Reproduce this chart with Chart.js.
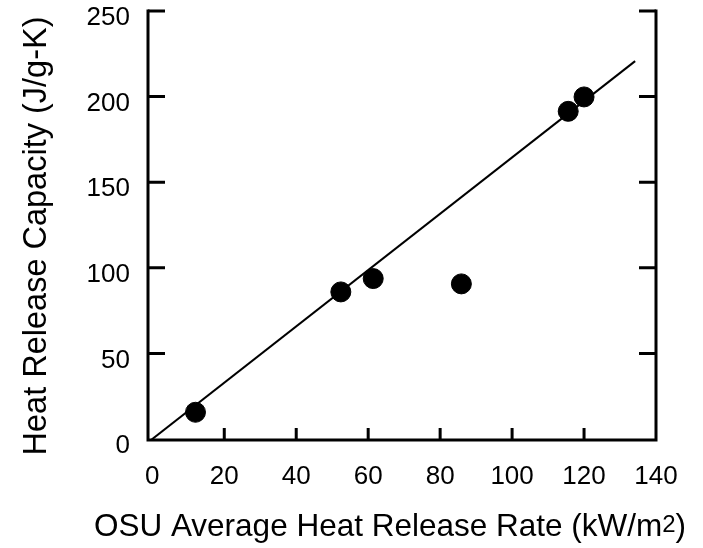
<!DOCTYPE html>
<html>
<head>
<meta charset="utf-8">
<script src="https://cdn.jsdelivr.net/npm/chart.js@4.4.0/dist/chart.umd.min.js"></script>
<style>
  html, body { margin: 0; padding: 0; background: #fff; }
  #wrap { width: 703px; height: 548px; }
</style>
</head>
<body>
<div id="wrap"><canvas id="chart"></canvas></div>
<script>
// --- Data ---
const osuRate = [12, 52.4, 61.4, 85.9, 115.6, 120];          // kW/m2
const heatCapacity = [15.6, 85.9, 93.7, 90.6, 191.4, 199.8]; // J/g-K
const fitX = [-1.2, 134.2];
const fitY = [-2, 220.7];
const xTicks = [0, 20, 40, 60, 80, 100, 120, 140];
const yTicks = [0, 50, 100, 150, 200, 250];

const FONT = '"Liberation Sans", Arial, Helvetica, sans-serif';

// frame (left, bottom, right) with inward tick marks
const framePlugin = {
  id: 'frame',
  afterDraw(chart) {
    const { ctx, chartArea: a, scales: { x, y } } = chart;
    const top = y.getPixelForValue(250);
    ctx.save();
    ctx.strokeStyle = '#000';
    ctx.lineWidth = 3;
    ctx.lineCap = 'square';
    ctx.beginPath();
    ctx.moveTo(a.left, top);
    ctx.lineTo(a.left, a.bottom);
    ctx.lineTo(a.right, a.bottom);
    ctx.lineTo(a.right, top);
    ctx.stroke();
    ctx.lineCap = 'butt';
    ctx.beginPath();
    yTicks.filter(v => v > 0).forEach(v => {
      const py = y.getPixelForValue(v);
      ctx.moveTo(a.left, py); ctx.lineTo(a.left + 17, py);
      ctx.moveTo(a.right, py); ctx.lineTo(a.right - 17, py);
    });
    xTicks.filter(v => v > 0 && v < 140).forEach(v => {
      const px = x.getPixelForValue(v);
      ctx.moveTo(px, a.bottom); ctx.lineTo(px, a.bottom - 12);
    });
    ctx.stroke();
    ctx.restore();
  }
};

// axis titles (x title has the smaller "2")
const titlePlugin = {
  id: 'titles',
  afterDraw(chart) {
    const ctx = chart.ctx;
    ctx.save();
    ctx.fillStyle = '#000';
    ctx.textBaseline = 'alphabetic';
    const main = 'OSU Average Heat Release Rate (kW/m';
    const big = '31.5px ' + FONT, small = '24px ' + FONT;
    ctx.font = big;
    const w1 = ctx.measureText(main).width;
    const w3 = ctx.measureText(')').width;
    ctx.font = small;
    const w2 = ctx.measureText('2').width;
    let sx = 390 - (w1 + w2 + w3) / 2;
    const base = 536;
    ctx.textAlign = 'left';
    ctx.font = big;
    ctx.fillText(main, sx, base);
    ctx.font = small;
    ctx.fillText('2', sx + w1, base - 4);
    ctx.font = big;
    ctx.fillText(')', sx + w1 + w2, base);

    ctx.translate(46, 236);
    ctx.rotate(-Math.PI / 2);
    ctx.textAlign = 'center';
    ctx.font = '32.5px ' + FONT;
    ctx.fillText('Heat Release Capacity (J/g-K)', 0, 0);
    ctx.restore();
  }
};

new Chart(document.getElementById('chart'), {
  type: 'scatter',
  data: {
    datasets: [
      {
        label: 'Data',
        data: osuRate.map((v, i) => ({ x: v, y: heatCapacity[i] })),
        backgroundColor: '#000',
        borderColor: '#000',
        pointRadius: 10,
        pointHoverRadius: 10
      },
      {
        label: 'Fit',
        type: 'line',
        data: fitX.map((v, i) => ({ x: v, y: fitY[i] })),
        borderColor: '#000',
        borderWidth: 2,
        pointRadius: 0,
        fill: false
      }
    ]
  },
  options: {
    responsive: true,
    maintainAspectRatio: false,
    animation: false,
    devicePixelRatio: 1,
    layout: { padding: { top: 10.5, right: 47, left: 0, bottom: 0 } },
    plugins: {
      legend: { display: false },
      tooltip: { enabled: false }
    },
    scales: {
      x: {
        type: 'linear',
        min: -1.2,
        max: 140,
        afterBuildTicks: s => { s.ticks = xTicks.map(v => ({ value: v })); },
        afterFit: s => { s.height = 108; s.paddingLeft = 0; s.paddingRight = 0; },
        grid: { display: false },
        border: { display: false },
        ticks: {
          color: '#000',
          font: { family: FONT, size: 26 },
          padding: 13,
          maxRotation: 0,
          callback: v => String(v)
        }
      },
      y: {
        type: 'linear',
        min: -0.6,
        max: 250,
        afterBuildTicks: s => { s.ticks = yTicks.map(v => ({ value: v })); },
        afterFit: s => { s.width = 148; s.paddingTop = 0; s.paddingBottom = 0; },
        grid: { display: false },
        border: { display: false },
        ticks: {
          color: '#000',
          font: { family: FONT, size: 26 },
          padding: 10,
          labelOffset: 7,
          callback: v => String(v)
        }
      }
    }
  },
  plugins: [framePlugin, titlePlugin]
});
</script>
</body>
</html>
